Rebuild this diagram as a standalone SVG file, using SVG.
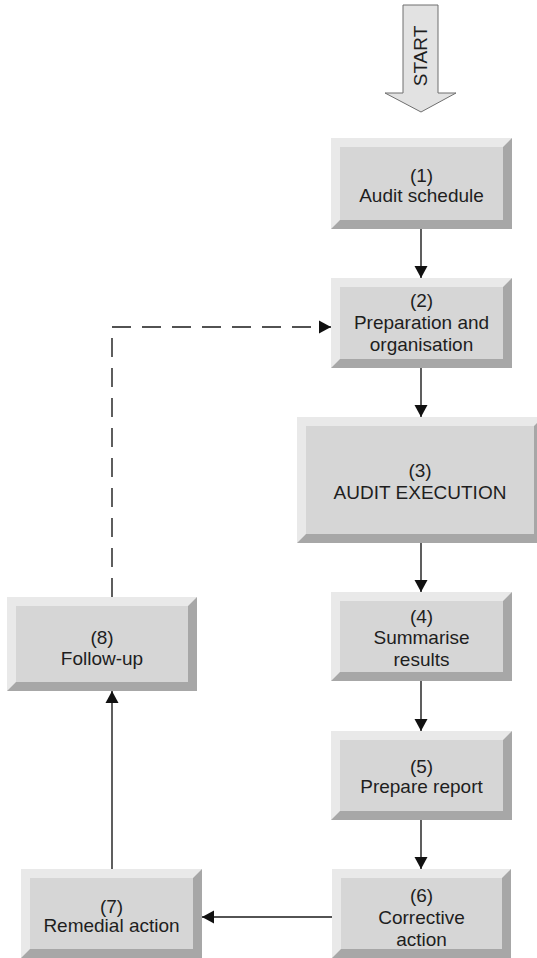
<svg xmlns="http://www.w3.org/2000/svg" width="537" height="958" viewBox="0 0 537 958">
<style>
.light{fill:#e9e9e9}
.dark{fill:#a7a7a7}
.face{fill:#d6d6d6}
.lbl{font-family:"Liberation Sans",Arial,sans-serif;font-size:19px;fill:#1e1e1e;text-anchor:middle}
.edge{stroke:#1a1a1a;stroke-width:1.4;fill:none}
.dash{stroke-dasharray:19 11}
</style>
<defs>
<marker id="ah" markerUnits="userSpaceOnUse" markerWidth="14" markerHeight="14" viewBox="0 0 12 14" refX="12" refY="7" orient="auto">
<path d="M0,0.5 L12,7 L0,13.5 Z" fill="#111"/>
</marker>
</defs>
<rect width="537" height="958" fill="#fff"/>

<g id="start">
<path d="M403,5 L438,5 L438,93 L456,93 L421,112 L385,93 L403,93 Z" fill="#e2e2e2" stroke="#6f6f6f" stroke-width="1"/>
<text class="lbl" transform="translate(427,56) rotate(-90)" font-size="17.5">START</text>
</g>

<g id="node1">
<rect class="light" x="331" y="138" width="181" height="91"/>
<polygon class="dark" points="512,138 512,229 331,229 340,220 503,220 503,147"/>
<rect class="face" x="340" y="147" width="163" height="73"/>
<text class="lbl" x="421.5" y="182">(1)</text>
<text class="lbl" x="421.5" y="202">Audit schedule</text>
</g>

<g id="node2">
<rect class="light" x="331" y="278" width="181" height="90"/>
<polygon class="dark" points="512,278 512,368 331,368 340,359 503,359 503,287"/>
<rect class="face" x="340" y="287" width="163" height="72"/>
<text class="lbl" x="421.5" y="307">(2)</text>
<text class="lbl" x="421.5" y="329">Preparation and</text>
<text class="lbl" x="421.5" y="351">organisation</text>
</g>

<g id="node3">
<rect class="light" x="297" y="417" width="246" height="126"/>
<polygon class="dark" points="543,417 543,543 297,543 306,534 534,534 534,426"/>
<rect class="face" x="306" y="426" width="228" height="108"/>
<text class="lbl" x="420" y="477">(3)</text>
<text class="lbl" x="420" y="499">AUDIT EXECUTION</text>
</g>

<g id="node4">
<rect class="light" x="331" y="592" width="181" height="89"/>
<polygon class="dark" points="512,592 512,681 331,681 340,672 503,672 503,601"/>
<rect class="face" x="340" y="601" width="163" height="71"/>
<text class="lbl" x="421.5" y="623">(4)</text>
<text class="lbl" x="421.5" y="644">Summarise</text>
<text class="lbl" x="421.5" y="666">results</text>
</g>

<g id="node5">
<rect class="light" x="331" y="731" width="181" height="89"/>
<polygon class="dark" points="512,731 512,820 331,820 340,811 503,811 503,740"/>
<rect class="face" x="340" y="740" width="163" height="71"/>
<text class="lbl" x="421.5" y="773">(5)</text>
<text class="lbl" x="421.5" y="793">Prepare report</text>
</g>

<g id="node6">
<rect class="light" x="332" y="869" width="179" height="89"/>
<polygon class="dark" points="511,869 511,958 332,958 341,949 502,949 502,878"/>
<rect class="face" x="341" y="878" width="161" height="71"/>
<text class="lbl" x="421.5" y="902">(6)</text>
<text class="lbl" x="421.5" y="924">Corrective</text>
<text class="lbl" x="421.5" y="946">action</text>
</g>

<g id="node7">
<rect class="light" x="21" y="869" width="181" height="89"/>
<polygon class="dark" points="202,869 202,958 21,958 30,949 193,949 193,878"/>
<rect class="face" x="30" y="878" width="163" height="71"/>
<text class="lbl" x="111.5" y="913">(7)</text>
<text class="lbl" x="111.5" y="932">Remedial action</text>
</g>

<g id="node8">
<rect class="light" x="7" y="597" width="190" height="94"/>
<polygon class="dark" points="197,597 197,691 7,691 16,682 188,682 188,606"/>
<rect class="face" x="16" y="606" width="172" height="76"/>
<text class="lbl" x="102" y="644">(8)</text>
<text class="lbl" x="102" y="665">Follow-up</text>
</g>

<g id="connectors">
<line class="edge" x1="421" y1="229" x2="421" y2="278" marker-end="url(#ah)"/>
<line class="edge" x1="421" y1="368" x2="421" y2="417" marker-end="url(#ah)"/>
<line class="edge" x1="421" y1="543" x2="421" y2="592" marker-end="url(#ah)"/>
<line class="edge" x1="421" y1="681" x2="421" y2="731" marker-end="url(#ah)"/>
<line class="edge" x1="421" y1="820" x2="421" y2="869" marker-end="url(#ah)"/>
<line class="edge" x1="332" y1="917" x2="202" y2="917" marker-end="url(#ah)"/>
<line class="edge" x1="112" y1="869" x2="112" y2="691" marker-end="url(#ah)"/>
<path class="edge dash" d="M112,597 L112,327 L331,327" marker-end="url(#ah)"/>
</g>
</svg>
